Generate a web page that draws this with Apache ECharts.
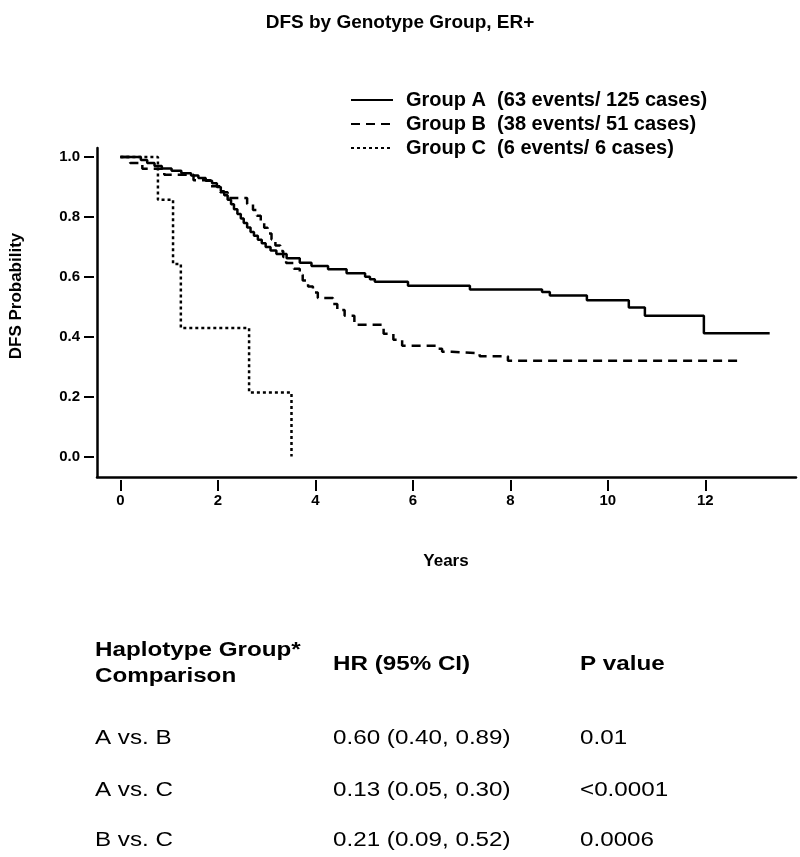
<!DOCTYPE html>
<html>
<head>
<meta charset="utf-8">
<title>DFS by Genotype Group, ER+</title>
<script src="https://cdn.jsdelivr.net/npm/echarts@6/dist/echarts.min.js"></script>
<style>
html, body { margin: 0; padding: 0; background: #fff; }
#main { width: 800px; height: 857px; }
</style>
</head>
<body>
<div id="main"></div>
<script>
// Kaplan-Meier steps: [years, DFS probability]
var groupA = [
    [0, 1.0], [0.42, 0.99], [0.55, 0.98], [0.7, 0.97], [0.85, 0.962], [1.05, 0.954], [1.25, 0.946],
    [1.45, 0.938], [1.6, 0.93], [1.75, 0.921], [1.88, 0.912], [1.98, 0.9], [2.06, 0.886], [2.13, 0.872],
    [2.2, 0.857], [2.27, 0.842], [2.33, 0.826], [2.4, 0.81], [2.47, 0.795], [2.53, 0.78], [2.6, 0.765],
    [2.67, 0.75], [2.74, 0.737], [2.82, 0.724], [2.9, 0.712], [2.98, 0.7], [3.08, 0.688], [3.2, 0.676],
    [3.41, 0.662], [3.68, 0.647], [3.92, 0.636], [4.26, 0.625], [4.64, 0.612], [5.02, 0.6], [5.12, 0.592],
    [5.22, 0.584], [5.9, 0.57], [7.17, 0.558], [8.65, 0.549], [8.81, 0.538], [9.57, 0.522], [10.43, 0.498],
    [10.76, 0.47], [11.97, 0.412], [13.32, 0.412]
];
var groupB = [
    [0, 1.0], [0.2, 0.98], [0.45, 0.961], [0.9, 0.941], [1.5, 0.922], [1.85, 0.902], [2.05, 0.882],
    [2.2, 0.863], [2.6, 0.843], [2.72, 0.823], [2.8, 0.804], [2.88, 0.784], [2.95, 0.764], [3.02, 0.745],
    [3.1, 0.725], [3.18, 0.705], [3.28, 0.686], [3.34, 0.666], [3.4, 0.646], [3.56, 0.627], [3.68, 0.607],
    [3.74, 0.588], [3.85, 0.568], [3.95, 0.548], [4.05, 0.529], [4.36, 0.509], [4.45, 0.489], [4.6, 0.47],
    [4.8, 0.44], [5.4, 0.41], [5.6, 0.39], [5.78, 0.37], [6.5, 0.36], [6.6, 0.35], [6.8, 0.345],
    [7.37, 0.335], [7.95, 0.32], [12.72, 0.32]
];
var groupC = [
    [0, 1.0], [0.77, 0.857], [1.08, 0.643], [1.24, 0.429], [2.64, 0.214], [3.51, 0]
];

var groupLabels = ['Group A', 'Group B', 'Group C'];
var groupEvents = [63, 38, 6];
var groupCases = [125, 51, 6];

var xTicks = [0, 2, 4, 6, 8, 10, 12];
var yTicks = [0, 0.2, 0.4, 0.6, 0.8, 1.0];

// table under the chart
var tableHeader = ['Haplotype Group*\nComparison', 'HR (95% CI)', 'P value'];
var comparisons = ['A vs. B', 'A vs. C', 'B vs. C'];
var hrValues = ['0.60 (0.40, 0.89)', '0.13 (0.05, 0.30)', '0.21 (0.09, 0.52)'];
var pValues = ['0.01', '<0.0001', '0.0006'];

var FONT = '"Liberation Sans", Arial, Helvetica, sans-serif';
var chart = echarts.init(document.getElementById('main'));

var names = groupLabels.map(function (g, i) {
    return g + '  (' + groupEvents[i] + ' events/ ' + groupCases[i] + ' cases)';
});
var curves = [groupA, groupB, groupC];
var dashes = ['solid', [9, 6], [3, 3]];

var series = curves.map(function (d, i) {
    return {
        name: names[i],
        type: 'line',
        step: 'end',
        data: d,
        symbol: 'none',
        showSymbol: false,
        silent: true,
        color: '#000',
        itemStyle: { color: '#000' },
        lineStyle: { color: '#000', width: 2.5, type: dashes[i] }
    };
});

// axis ranges chosen so the frame lines sit like in the figure
var xMin = -0.48, xMax = 13.86;
var yMin = -0.068, yMax = 1.03;

var graphics = [
    {
        type: 'text', x: 16, y: 296, rotation: Math.PI / 2,
        style: { text: 'DFS Probability', font: 'bold 17px ' + FONT, fill: '#000', align: 'center', verticalAlign: 'middle' }
    },
    {
        type: 'text', x: 446, y: 561,
        style: { text: 'Years', font: 'bold 17px ' + FONT, fill: '#000', align: 'center', verticalAlign: 'middle' }
    }
];
// the figure's table text is a little stretched sideways
var colX = [95, 333, 580];
var SX = 1.21;
graphics.push({ type: 'text', x: colX[0], y: 663, scaleX: SX, style: { text: tableHeader[0], font: 'bold 20px ' + FONT, fill: '#000', verticalAlign: 'middle', lineHeight: 26 } });
graphics.push({ type: 'text', x: colX[1], y: 664, scaleX: SX, style: { text: tableHeader[1], font: 'bold 20px ' + FONT, fill: '#000', verticalAlign: 'middle' } });
graphics.push({ type: 'text', x: colX[2], y: 664, scaleX: SX, style: { text: tableHeader[2], font: 'bold 20px ' + FONT, fill: '#000', verticalAlign: 'middle' } });
var rowY = [738, 790, 840];
comparisons.forEach(function (c, i) {
    [c, hrValues[i], pValues[i]].forEach(function (t, j) {
        graphics.push({ type: 'text', x: colX[j], y: rowY[i], scaleX: SX, style: { text: t, font: '20px ' + FONT, fill: '#000', verticalAlign: 'middle' } });
    });
});

var option = {
    backgroundColor: '#fff',
    animation: false,
    title: {
        text: 'DFS by Genotype Group, ER+',
        left: 'center',
        top: 8,
        textStyle: { fontFamily: FONT, fontSize: 19, fontWeight: 'bold', color: '#000' }
    },
    legend: {
        data: names,
        orient: 'vertical',
        left: 350,
        top: 90,
        itemWidth: 42,
        itemHeight: 14,
        itemGap: 4,
        padding: 0,
        selectedMode: false,
        itemStyle: { opacity: 0 },
        textStyle: { fontFamily: FONT, fontSize: 20, fontWeight: 'bold', color: '#000', padding: [0, 0, 0, 8] }
    },
    grid: { left: 97, right: 4, top: 148, bottom: 380, containLabel: false },
    xAxis: [
        {   // frame line
            type: 'value', min: xMin, max: xMax,
            axisLine: { show: true, onZero: false, lineStyle: { color: '#000', width: 2.5 } },
            axisTick: { show: false }, axisLabel: { show: false }, splitLine: { show: false }
        },
        {   // ticks + labels, slightly detached from the frame
            type: 'value', min: xMin, max: xMax, position: 'bottom', offset: 3,
            axisLine: { show: false, onZero: false },
            axisTick: { show: true, customValues: xTicks, length: 11, lineStyle: { color: '#000', width: 2 } },
            axisLabel: { show: true, customValues: xTicks, margin: 13, color: '#000', fontFamily: FONT, fontSize: 15, fontWeight: 'bold' },
            splitLine: { show: false }
        }
    ],
    yAxis: [
        {
            type: 'value', min: yMin, max: yMax,
            axisLine: { show: true, onZero: false, lineStyle: { color: '#000', width: 2.5 } },
            axisTick: { show: false }, axisLabel: { show: false }, splitLine: { show: false }
        },
        {
            type: 'value', min: yMin, max: yMax, position: 'left', offset: 3,
            axisLine: { show: false, onZero: false },
            axisTick: { show: true, customValues: yTicks, length: 10, lineStyle: { color: '#000', width: 2 } },
            axisLabel: {
                show: true, customValues: yTicks, margin: 14, color: '#000', fontFamily: FONT, fontSize: 15, fontWeight: 'bold',
                formatter: function (v) { return v.toFixed(1); }
            },
            splitLine: { show: false }
        }
    ],
    graphic: graphics,
    series: series
};

chart.setOption(option);
</script>
</body>
</html>
